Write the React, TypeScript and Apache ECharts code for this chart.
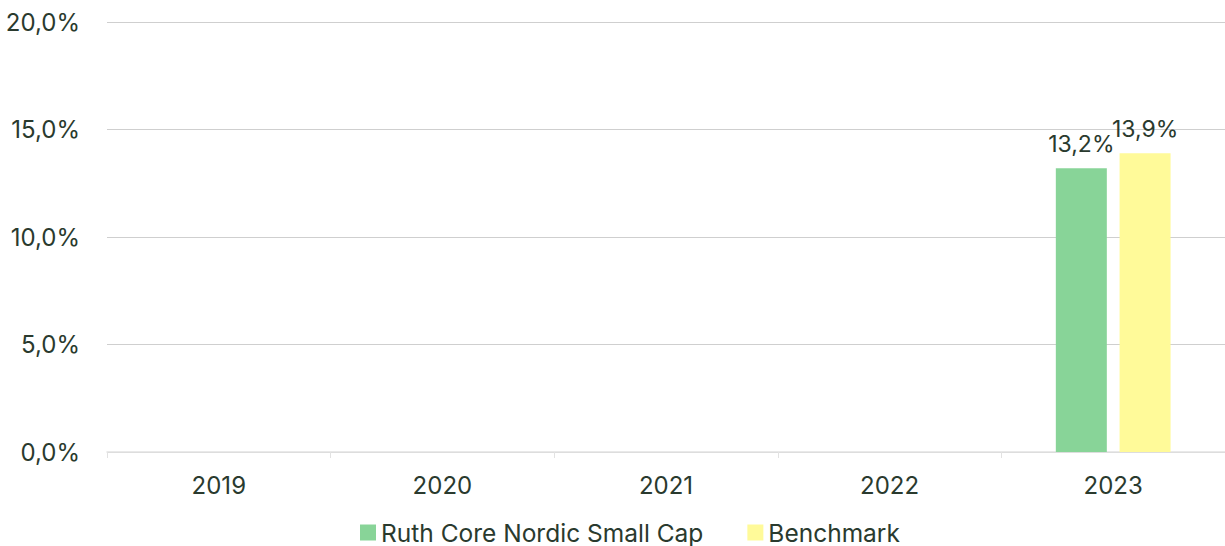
import React, { useEffect, useRef } from "react";
import * as echarts from "echarts";

const categories = ["2019", "2020", "2021", "2022", "2023"];
const fundValues: (number | null)[] = [null, null, null, null, 13.2];
const benchmarkValues: (number | null)[] = [null, null, null, null, 13.9];
const seriesNames = ["Ruth Core Nordic Small Cap", "Benchmark"];

const textColor = "#2a3a2e";
const fmt = (v: number) => v.toFixed(1).replace(".", ",") + "%";

export default function App() {
  const ref = useRef<HTMLDivElement>(null);
  useEffect(() => {
    if (!ref.current) return;
    const chart = echarts.init(ref.current, undefined, { renderer: "svg" });
    chart.setOption({
      animation: false,
      textStyle: { fontFamily: "Inter" },
      grid: { left: 107, right: -2, top: 22, bottom: 94, containLabel: false },
      legend: {
        bottom: -4,
        left: 355,
        itemWidth: 16,
        itemHeight: 16,
        itemGap: 44,
        icon: "rect",
        textStyle: { fontSize: 24.5, color: textColor, fontFamily: "Inter" },
        data: seriesNames,
      },
      xAxis: {
        type: "category",
        data: categories,
        axisLine: { lineStyle: { color: "#e2e2e2", width: 1.5 } },
        axisTick: { show: true, length: 6, lineStyle: { color: "#e2e2e2" } },
        axisLabel: { fontSize: 24, color: textColor, margin: 21, fontFamily: "Inter" },
      },
      yAxis: {
        type: "value",
        min: 0,
        max: 20,
        interval: 5,
        axisLabel: { fontSize: 24, color: textColor, margin: 27, formatter: fmt, fontFamily: "Inter" },
        splitLine: { lineStyle: { color: "#cfcfcf", width: 1 } },
        axisLine: { show: false },
        axisTick: { show: false },
      },
      series: [
        {
          name: seriesNames[0],
          type: "bar",
          data: fundValues,
          barWidth: 51,
          barGap: "25%",
          itemStyle: { color: "#88d498" },
          label: {
            show: true,
            position: "top",
            distance: 13,
            fontSize: 23,
            color: textColor,
            fontFamily: "Inter",
            formatter: (p: any) => fmt(p.value),
          },
        },
        {
          name: seriesNames[1],
          type: "bar",
          data: benchmarkValues,
          barWidth: 51,
          itemStyle: { color: "#fffa99" },
          label: {
            show: true,
            position: "top",
            distance: 13,
            fontSize: 23,
            color: textColor,
            fontFamily: "Inter",
            formatter: (p: any) => fmt(p.value),
          },
        },
      ],
    });
    return () => chart.dispose();
  }, []);
  return (
    <div
      ref={ref}
      style={{ position: "fixed", left: 0, top: 0, width: 1225, height: 546, background: "#fff" }}
    />
  );
}
